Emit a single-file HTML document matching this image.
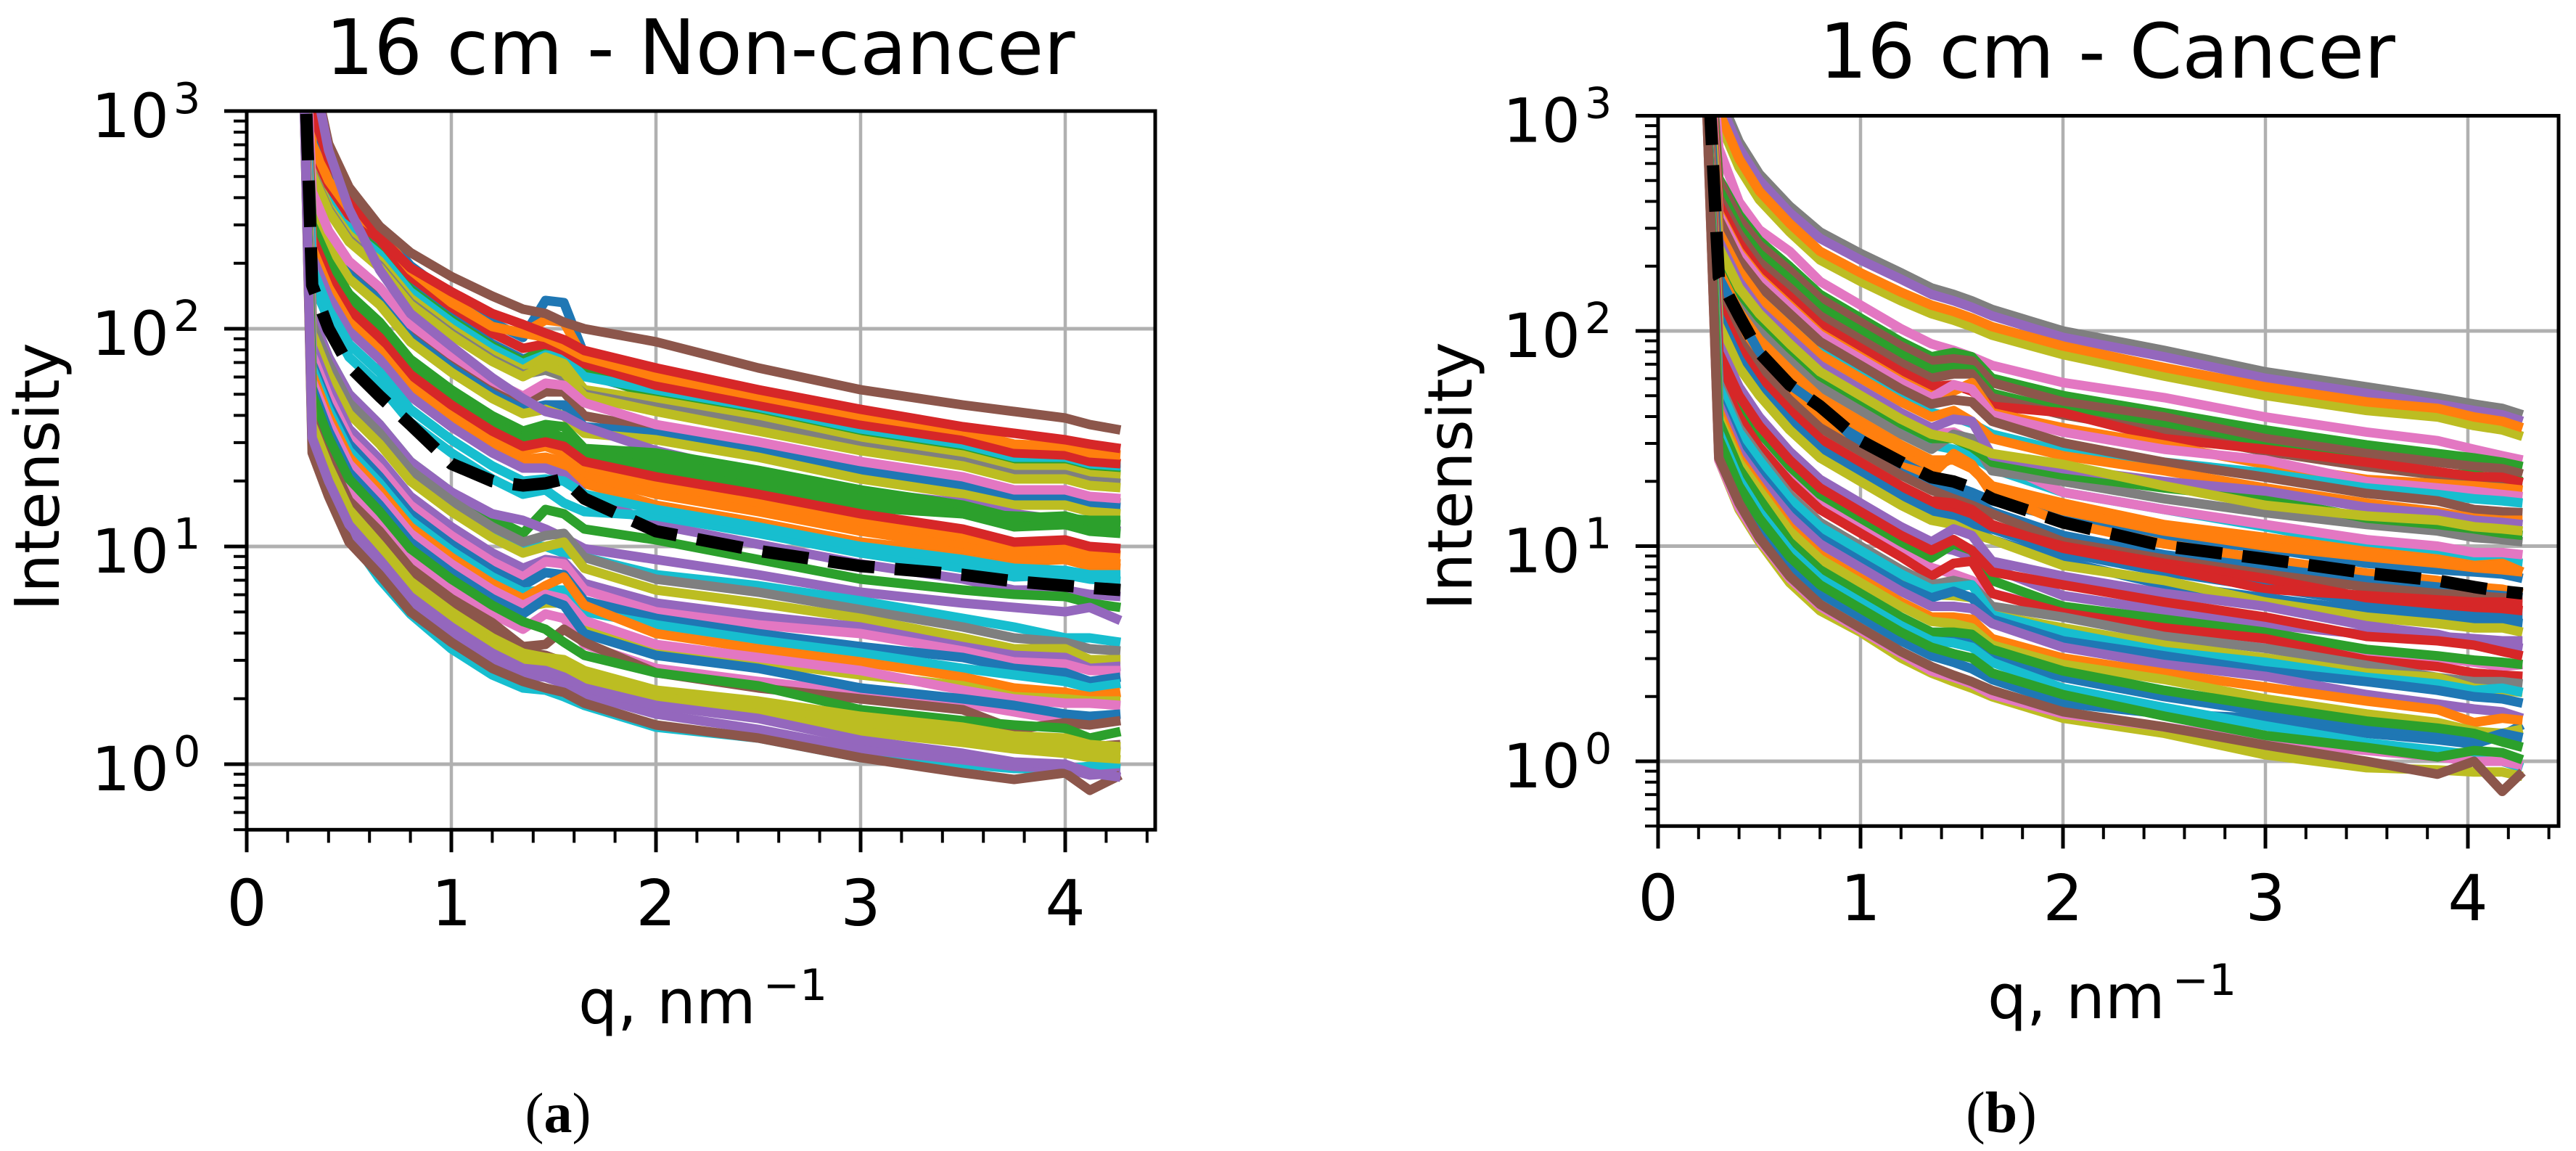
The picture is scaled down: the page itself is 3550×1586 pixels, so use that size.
<!DOCTYPE html>
<html lang="en">
<head>
<meta charset="utf-8">
<title>16 cm intensity curves: Non-cancer and Cancer</title>
<style>
html,body{margin:0;padding:0;background:#fff;}
svg{display:block;}
text{font-family:"DejaVu Sans","Liberation Sans",sans-serif;fill:#000;}
.caption{font-family:"Liberation Serif",serif;}
</style>
</head>
<body>
<svg id="figure" xmlns="http://www.w3.org/2000/svg" width="3550" height="1586" viewBox="0 0 3550 1586">
<rect x="0" y="0" width="3550" height="1586" fill="#ffffff"/>
<text class="caption" x="769" y="1560" font-size="78" text-anchor="middle">(<tspan font-weight="bold">a</tspan>)</text>
<text class="caption" x="2758" y="1560" font-size="80" text-anchor="middle">(<tspan font-weight="bold">b</tspan>)</text>
</svg>
<script>
/* Values. Every series holds log10(intensity) at the q positions below. */
const nonCancerQ = [0.27,0.32,0.4,0.5,0.65,0.8,1,1.2,1.35,1.46,1.55,1.65,2,2.5,3,3.5,3.75,4,4.12,4.27];
const cancerQ = [0.22,0.30,0.4,0.5,0.65,0.8,1,1.2,1.35,1.46,1.55,1.65,2,2.5,3,3.5,3.85,4.03,4.17,4.27];
const xTickLabels = ['0','1','2','3','4'];
const yTickDecades = [0,1,2,3];

const nonCancerColors = ['blue','orange','blue','green','cyan','olive','gray','olive','red','orange','red','brown','brown','blue','olive','pink','purple','green','green','green','orange','red','orange','orange','purple','cyan','cyan','green','purple','cyan','gray','olive','purple','pink','pink','blue','cyan','orange','olive','pink','blue','brown','green','brown','olive','olive','olive','cyan','purple','brown','purple'];
const nonCancerSeries = [
[3.8,2.87,2.70,2.57,2.46,2.29,2.15,2.03,1.96,2.13,2.12,1.88,1.74,1.62,1.52,1.44,1.41,1.39,1.37,1.36],
[3.8,2.85,2.68,2.55,2.44,2.27,2.13,2.01,1.98,2.04,2.03,1.86,1.73,1.63,1.53,1.45,1.42,1.41,1.40,1.38],
[3.7,2.78,2.61,2.48,2.36,2.19,2.05,1.93,1.86,1.90,1.86,1.79,1.70,1.62,1.52,1.45,1.39,1.39,1.36,1.35],
[3.7,2.77,2.60,2.47,2.35,2.18,2.04,1.92,1.85,1.92,1.93,1.80,1.69,1.60,1.51,1.44,1.37,1.37,1.34,1.33],
[3.7,2.76,2.59,2.46,2.34,2.17,2.03,1.91,1.84,1.88,1.87,1.78,1.72,1.64,1.54,1.47,1.41,1.41,1.38,1.37],
[3.7,2.74,2.56,2.43,2.31,2.14,2.00,1.88,1.81,1.87,1.84,1.72,1.67,1.59,1.49,1.42,1.36,1.36,1.33,1.32],
[3.7,2.72,2.55,2.41,2.29,2.12,1.98,1.86,1.79,1.81,1.78,1.70,1.64,1.56,1.46,1.39,1.33,1.33,1.30,1.29],
[3.7,2.71,2.54,2.40,2.28,2.11,1.97,1.85,1.78,1.83,1.80,1.69,1.62,1.53,1.44,1.37,1.31,1.31,1.28,1.27],
[3.8,2.83,2.66,2.52,2.41,2.24,2.10,1.98,1.91,1.93,1.90,1.84,1.74,1.65,1.56,1.49,1.43,1.42,1.39,1.38],
[3.8,2.85,2.68,2.55,2.44,2.27,2.12,2.01,1.98,1.96,1.92,1.87,1.78,1.69,1.60,1.53,1.47,1.46,1.43,1.42],
[3.9,3.00,2.78,2.60,2.42,2.28,2.17,2.07,2.02,1.98,1.95,1.90,1.82,1.72,1.63,1.55,1.52,1.49,1.47,1.45],
[4.0,3.20,2.85,2.65,2.47,2.35,2.24,2.15,2.09,2.07,2.03,2.00,1.94,1.82,1.72,1.65,1.62,1.59,1.56,1.535],
[3.7,2.60,2.43,2.28,2.16,1.99,1.85,1.73,1.66,1.71,1.71,1.60,1.54,1.46,1.37,1.30,1.24,1.24,1.21,1.20],
[3.7,2.57,2.40,2.25,2.13,1.96,1.82,1.70,1.63,1.65,1.65,1.55,1.52,1.44,1.35,1.28,1.22,1.22,1.19,1.18],
[3.7,2.56,2.38,2.23,2.11,1.94,1.80,1.68,1.61,1.63,1.60,1.52,1.49,1.41,1.31,1.24,1.19,1.19,1.16,1.15],
[3.7,2.63,2.45,2.31,2.19,2.02,1.88,1.76,1.69,1.75,1.74,1.66,1.56,1.48,1.39,1.32,1.26,1.26,1.23,1.22],
[4.0,3.20,2.82,2.55,2.27,2.07,1.92,1.775,1.68,1.62,1.60,1.55,1.44,1.33,1.25,1.20,1.15,1.12,1.09,1.07],
[3.6,2.48,2.31,2.16,2.03,1.86,1.72,1.60,1.53,1.56,1.55,1.45,1.43,1.35,1.26,1.19,1.13,1.14,1.11,1.10],
[3.6,2.46,2.28,2.13,2.00,1.83,1.69,1.57,1.50,1.53,1.50,1.42,1.39,1.31,1.22,1.15,1.09,1.10,1.07,1.06],
[3.6,2.45,2.27,2.12,1.99,1.82,1.68,1.56,1.49,1.51,1.49,1.43,1.36,1.27,1.18,1.15,1.14,1.13,1.12,1.12],
[3.6,2.40,2.22,2.07,1.94,1.77,1.63,1.51,1.44,1.46,1.43,1.35,1.28,1.20,1.11,1.04,0.99,1.00,0.97,0.96],
[3.6,2.42,2.24,2.09,1.96,1.79,1.65,1.53,1.46,1.48,1.46,1.39,1.32,1.24,1.15,1.08,1.02,1.03,1.00,0.99],
[3.6,2.37,2.19,2.03,1.90,1.73,1.59,1.47,1.40,1.41,1.39,1.32,1.24,1.16,1.07,1.00,0.95,0.96,0.93,0.92],
[3.6,2.35,2.17,2.01,1.88,1.71,1.57,1.45,1.38,1.39,1.37,1.29,1.19,1.11,1.02,0.97,0.93,0.94,0.91,0.90],
[3.6,2.33,2.15,1.99,1.86,1.69,1.55,1.43,1.36,1.36,1.33,1.24,1.10,1.01,0.92,0.85,0.80,0.80,0.78,0.77],
[3.6,2.22,2.04,1.87,1.74,1.57,1.43,1.31,1.24,1.26,1.20,1.16,1.14,1.06,0.97,0.90,0.86,0.87,0.85,0.84],
[3.6,2.28,2.09,1.93,1.80,1.63,1.49,1.37,1.30,1.31,1.30,1.24,1.17,1.09,1.00,0.94,0.90,0.89,0.87,0.87],
[3.6,2.06,1.87,1.70,1.56,1.39,1.25,1.13,1.06,1.17,1.15,1.08,1.03,0.94,0.85,0.80,0.78,0.77,0.74,0.72],
[3.6,2.06,1.87,1.70,1.56,1.39,1.25,1.15,1.12,1.08,1.04,0.99,0.94,0.87,0.79,0.74,0.72,0.70,0.72,0.66],
[3.6,2.00,1.82,1.64,1.50,1.33,1.19,1.07,1.00,1.00,0.97,0.95,0.87,0.82,0.75,0.67,0.63,0.58,0.58,0.56],
[3.6,2.02,1.84,1.66,1.52,1.35,1.21,1.09,1.02,1.05,1.06,0.95,0.85,0.79,0.71,0.63,0.58,0.56,0.53,0.52],
[3.6,1.98,1.79,1.61,1.47,1.30,1.16,1.04,0.97,1.00,1.02,0.90,0.80,0.74,0.67,0.58,0.53,0.53,0.48,0.48],
[3.6,1.92,1.73,1.54,1.40,1.23,1.09,0.97,0.90,0.94,0.93,0.83,0.74,0.68,0.63,0.54,0.50,0.49,0.44,0.45],
[3.6,1.88,1.69,1.50,1.36,1.19,1.05,0.93,0.86,0.93,0.92,0.80,0.70,0.64,0.60,0.52,0.47,0.46,0.43,0.43],
[3.5,1.66,1.46,1.27,1.12,0.95,0.81,0.69,0.62,0.69,0.67,0.55,0.44,0.38,0.33,0.28,0.24,0.20,0.20,0.20],
[3.5,1.84,1.65,1.47,1.32,1.15,1.01,0.89,0.82,0.88,0.87,0.75,0.67,0.60,0.54,0.49,0.44,0.42,0.38,0.40],
[3.5,1.82,1.63,1.44,1.29,1.12,0.98,0.86,0.79,0.80,0.80,0.70,0.64,0.57,0.51,0.44,0.41,0.38,0.35,0.37],
[3.5,1.79,1.60,1.41,1.26,1.09,0.95,0.83,0.76,0.82,0.86,0.73,0.60,0.53,0.47,0.40,0.35,0.33,0.31,0.33],
[3.5,1.75,1.56,1.37,1.22,1.05,0.91,0.79,0.72,0.74,0.74,0.64,0.53,0.47,0.41,0.36,0.31,0.30,0.29,0.29],
[3.5,1.76,1.57,1.38,1.23,1.06,0.92,0.80,0.73,0.78,0.76,0.66,0.55,0.49,0.43,0.34,0.30,0.28,0.28,0.27],
[3.5,1.73,1.53,1.34,1.19,1.02,0.88,0.76,0.69,0.76,0.73,0.60,0.50,0.44,0.35,0.30,0.27,0.23,0.22,0.23],
[3.5,1.61,1.41,1.21,1.07,0.90,0.76,0.65,0.54,0.55,0.62,0.56,0.42,0.35,0.30,0.25,0.16,0.19,0.18,0.20],
[3.5,1.70,1.50,1.31,1.16,0.99,0.85,0.73,0.655,0.62,0.56,0.50,0.42,0.36,0.25,0.20,0.18,0.165,0.12,0.15],
[3.5,1.58,1.38,1.18,1.04,0.87,0.73,0.61,0.52,0.50,0.47,0.42,0.33,0.28,0.21,0.14,0.10,0.12,0.08,0.09],
[3.5,1.56,1.37,1.17,1.01,0.84,0.70,0.58,0.51,0.49,0.48,0.43,0.34,0.29,0.22,0.17,0.13,0.12,0.09,0.08],
[3.5,1.54,1.35,1.15,0.99,0.82,0.68,0.56,0.49,0.47,0.46,0.41,0.31,0.26,0.19,0.14,0.10,0.09,0.06,0.05],
[3.5,1.52,1.33,1.13,0.97,0.80,0.66,0.54,0.47,0.45,0.44,0.39,0.29,0.23,0.15,0.10,0.07,0.05,0.03,0.02],
[3.5,1.46,1.26,1.05,0.85,0.69,0.53,0.41,0.35,0.34,0.31,0.27,0.17,0.12,0.03,0.00,-0.02,-0.02,-0.01,-0.02],
[3.5,1.47,1.27,1.07,0.91,0.74,0.60,0.48,0.41,0.40,0.37,0.32,0.23,0.16,0.07,0.02,-0.01,-0.02,-0.05,-0.04],
[3.5,1.43,1.23,1.02,0.87,0.70,0.56,0.44,0.38,0.35,0.33,0.28,0.18,0.12,0.03,-0.04,-0.07,-0.04,-0.12,-0.05],
[3.5,1.50,1.30,1.10,0.94,0.77,0.63,0.51,0.44,0.43,0.40,0.35,0.27,0.21,0.11,0.05,0.01,0.00,-0.04,-0.06]
];
const nonCancerMean = [3.6,2.20,2.00,1.83,1.69,1.56,1.38,1.30,1.28,1.29,1.31,1.22,1.07,0.98,0.91,0.87,0.84,0.82,0.81,0.80];

const cancerColors = ['gray','purple','olive','orange','pink','green','brown','green','brown','red','orange','pink','cyan','brown','orange','cyan','pink','gray','green','purple','olive','orange','blue','orange','orange','blue','brown','blue','red','red','blue','olive','purple','purple','pink','green','red','red','gray','olive','cyan','blue','blue','purple','orange','olive','blue','green','cyan','olive','pink','green','brown'];
const cancerSeries = [
[3.9,3.10,2.88,2.73,2.58,2.46,2.36,2.27,2.20,2.17,2.14,2.10,2.00,1.91,1.81,1.74,1.69,1.66,1.64,1.61],
[3.9,3.07,2.85,2.70,2.55,2.43,2.33,2.24,2.17,2.14,2.11,2.07,1.97,1.88,1.78,1.71,1.66,1.63,1.61,1.58],
[3.9,2.98,2.76,2.61,2.46,2.33,2.23,2.14,2.08,2.05,2.02,1.98,1.89,1.79,1.70,1.63,1.60,1.56,1.54,1.51],
[3.9,3.02,2.80,2.65,2.50,2.37,2.27,2.18,2.12,2.09,2.06,2.02,1.93,1.83,1.74,1.67,1.64,1.60,1.58,1.55],
[3.8,2.85,2.60,2.47,2.37,2.23,2.12,2.01,1.94,1.91,1.88,1.84,1.76,1.69,1.60,1.53,1.49,1.45,1.42,1.40],
[3.8,2.71,2.54,2.42,2.30,2.17,2.06,1.95,1.88,1.90,1.88,1.78,1.70,1.62,1.54,1.47,1.43,1.41,1.39,1.37],
[3.8,2.70,2.52,2.40,2.28,2.15,2.04,1.93,1.86,1.87,1.86,1.76,1.67,1.60,1.50,1.43,1.39,1.37,1.36,1.335],
[3.8,2.66,2.48,2.36,2.24,2.11,2.00,1.89,1.82,1.83,1.82,1.71,1.63,1.56,1.46,1.39,1.34,1.33,1.31,1.30],
[3.8,2.62,2.45,2.32,2.20,2.07,1.96,1.85,1.78,1.80,1.80,1.69,1.61,1.53,1.44,1.37,1.33,1.31,1.30,1.29],
[3.8,2.59,2.41,2.28,2.16,2.03,1.92,1.81,1.74,1.75,1.72,1.65,1.62,1.50,1.45,1.39,1.346,1.323,1.32,1.295],
[3.8,2.55,2.37,2.25,2.12,1.99,1.88,1.77,1.70,1.72,1.76,1.62,1.55,1.47,1.38,1.31,1.29,1.28,1.27,1.26],
[3.8,2.54,2.36,2.24,2.11,1.98,1.87,1.76,1.69,1.75,1.73,1.61,1.53,1.45,1.40,1.30,1.27,1.255,1.24,1.23],
[3.7,2.48,2.30,2.17,2.04,1.91,1.80,1.69,1.62,1.60,1.57,1.52,1.44,1.39,1.34,1.27,1.24,1.22,1.21,1.20],
[3.7,2.52,2.33,2.21,2.08,1.95,1.84,1.73,1.66,1.68,1.67,1.58,1.48,1.39,1.32,1.245,1.21,1.17,1.16,1.155],
[3.7,2.46,2.28,2.15,2.02,1.89,1.78,1.67,1.60,1.63,1.58,1.50,1.42,1.35,1.27,1.20,1.16,1.13,1.12,1.12],
[3.7,2.35,2.16,2.03,1.89,1.76,1.65,1.54,1.47,1.45,1.42,1.36,1.25,1.17,1.09,1.00,0.97,0.93,0.93,0.92],
[3.7,2.39,2.20,2.08,1.94,1.81,1.70,1.59,1.52,1.53,1.49,1.40,1.25,1.17,1.10,1.03,1.00,0.97,0.97,0.96],
[3.7,2.33,2.14,2.01,1.87,1.74,1.63,1.52,1.45,1.52,1.50,1.35,1.30,1.22,1.155,1.10,1.07,1.04,1.03,1.02],
[3.7,2.37,2.18,2.06,1.92,1.79,1.68,1.57,1.50,1.50,1.46,1.39,1.33,1.27,1.22,1.13,1.10,1.08,1.06,1.05],
[3.7,2.42,2.23,2.10,1.97,1.84,1.73,1.62,1.55,1.59,1.58,1.42,1.36,1.30,1.256,1.18,1.15,1.12,1.11,1.10],
[3.7,2.39,2.20,2.08,1.94,1.81,1.70,1.59,1.52,1.50,1.47,1.43,1.38,1.28,1.19,1.14,1.12,1.09,1.08,1.07],
[3.7,2.25,2.05,1.92,1.78,1.65,1.54,1.43,1.36,1.41,1.37,1.28,1.20,1.10,1.04,0.975,0.94,0.91,0.92,0.88],
[3.7,2.21,2.02,1.89,1.74,1.61,1.50,1.39,1.32,1.28,1.25,1.21,1.13,1.04,0.99,0.92,0.89,0.88,0.87,0.85],
[3.7,2.28,2.09,1.96,1.82,1.69,1.58,1.47,1.40,1.40,1.36,1.27,1.165,1.07,1.00,0.95,0.92,0.90,0.89,0.88],
[3.7,2.20,2.02,1.86,1.72,1.60,1.46,1.37,1.33,1.43,1.38,1.24,1.11,1.01,0.94,0.875,0.84,0.81,0.80,0.78],
[3.7,2.25,2.07,1.90,1.75,1.65,1.47,1.34,1.28,1.24,1.21,1.16,1.05,0.96,0.90,0.84,0.81,0.78,0.77,0.76],
[3.6,2.16,1.96,1.83,1.68,1.55,1.44,1.33,1.26,1.22,1.19,1.15,1.02,0.94,0.87,0.81,0.78,0.77,0.76,0.76],
[3.6,2.09,1.89,1.76,1.61,1.48,1.37,1.26,1.19,1.15,1.12,1.08,0.97,0.88,0.81,0.74,0.71,0.69,0.68,0.68],
[3.6,2.10,1.91,1.77,1.62,1.49,1.38,1.27,1.20,1.18,1.15,1.09,1.00,0.92,0.85,0.76,0.73,0.716,0.71,0.70],
[3.6,2.12,1.92,1.78,1.63,1.50,1.39,1.28,1.21,1.20,1.17,1.10,0.99,0.90,0.80,0.77,0.75,0.74,0.74,0.74],
[3.6,2.07,1.87,1.73,1.58,1.45,1.34,1.23,1.16,1.11,1.08,1.03,0.93,0.82,0.76,0.70,0.67,0.655,0.65,0.64],
[3.6,2.03,1.83,1.70,1.54,1.41,1.30,1.19,1.12,1.10,1.06,1.03,0.91,0.84,0.74,0.67,0.64,0.62,0.62,0.60],
[3.6,1.94,1.74,1.60,1.44,1.31,1.20,1.09,1.02,1.08,1.05,0.93,0.86,0.78,0.72,0.63,0.59,0.55,0.54,0.525],
[3.6,1.94,1.74,1.60,1.43,1.30,1.19,1.08,1.00,0.98,0.95,0.90,0.77,0.70,0.635,0.59,0.58,0.57,0.56,0.56],
[3.6,1.84,1.64,1.50,1.34,1.21,1.10,0.99,0.90,0.87,0.84,0.78,0.70,0.64,0.56,0.51,0.48,0.46,0.44,0.45],
[3.6,1.87,1.67,1.53,1.37,1.24,1.13,1.02,0.945,1.01,0.98,0.84,0.72,0.66,0.60,0.52,0.49,0.47,0.46,0.45],
[3.6,1.90,1.70,1.56,1.40,1.27,1.16,1.05,0.98,1.03,0.98,0.88,0.82,0.74,0.67,0.58,0.56,0.54,0.51,0.49],
[3.6,1.80,1.60,1.46,1.30,1.17,1.06,0.95,0.86,0.92,0.93,0.78,0.69,0.62,0.57,0.47,0.44,0.41,0.40,0.395],
[3.6,1.76,1.55,1.42,1.24,1.11,1.00,0.89,0.82,0.84,0.82,0.72,0.67,0.58,0.525,0.446,0.39,0.37,0.37,0.36],
[3.6,1.72,1.51,1.38,1.20,1.07,0.96,0.85,0.775,0.77,0.76,0.68,0.62,0.54,0.48,0.41,0.39,0.34,0.33,0.32],
[3.6,1.74,1.53,1.40,1.22,1.09,0.98,0.87,0.80,0.81,0.82,0.68,0.60,0.51,0.46,0.39,0.36,0.33,0.34,0.32],
[3.6,1.68,1.47,1.34,1.17,1.04,0.93,0.82,0.76,0.79,0.76,0.66,0.56,0.49,0.42,0.37,0.33,0.30,0.29,0.27],
[3.6,1.46,1.25,1.10,0.91,0.78,0.67,0.56,0.49,0.46,0.43,0.38,0.27,0.22,0.20,0.13,0.10,0.08,0.12,0.17],
[3.6,1.66,1.44,1.31,1.14,1.01,0.90,0.79,0.72,0.72,0.71,0.64,0.53,0.45,0.395,0.31,0.266,0.243,0.23,0.20],
[3.6,1.63,1.41,1.28,1.09,0.96,0.85,0.74,0.67,0.67,0.66,0.57,0.48,0.41,0.345,0.28,0.24,0.18,0.20,0.19],
[3.6,1.60,1.39,1.26,1.07,0.94,0.83,0.72,0.65,0.64,0.62,0.54,0.45,0.38,0.29,0.22,0.18,0.14,0.13,0.15],
[3.6,1.56,1.34,1.20,1.00,0.87,0.76,0.65,0.58,0.57,0.56,0.48,0.39,0.30,0.23,0.16,0.12,0.09,0.13,0.11],
[3.6,1.58,1.36,1.22,1.02,0.89,0.78,0.67,0.60,0.60,0.59,0.52,0.42,0.33,0.255,0.187,0.154,0.13,0.09,0.065],
[3.6,1.53,1.31,1.16,0.98,0.85,0.74,0.63,0.56,0.55,0.53,0.46,0.34,0.25,0.165,0.086,0.05,0.03,0.00,-0.03],
[3.6,1.40,1.17,1.02,0.83,0.70,0.60,0.48,0.41,0.37,0.34,0.30,0.20,0.13,0.03,-0.03,-0.04,-0.05,-0.05,-0.07],
[3.6,1.40,1.18,1.03,0.85,0.72,0.61,0.50,0.42,0.39,0.36,0.31,0.22,0.16,0.09,0.05,0.02,0.00,0.00,-0.02],
[3.6,1.50,1.28,1.13,0.95,0.82,0.71,0.60,0.53,0.50,0.48,0.41,0.31,0.21,0.12,0.064,0.02,0.05,0.04,0.007],
[3.6,1.41,1.20,1.04,0.86,0.73,0.62,0.51,0.44,0.40,0.37,0.33,0.23,0.16,0.075,0.00,-0.06,0.00,-0.14,-0.05]
];
const cancerMean = [3.7,2.25,2.07,1.90,1.75,1.65,1.49,1.39,1.32,1.30,1.27,1.22,1.11,1.00,0.94,0.875,0.84,0.81,0.79,0.78];

const palette = {blue:'#1f77b4',orange:'#ff7f0e',green:'#2ca02c',red:'#d62728',purple:'#9467bd',brown:'#8c564b',pink:'#e377c2',gray:'#7f7f7f',olive:'#bcbd22',cyan:'#17becf'};

const SVGNS = 'http://www.w3.org/2000/svg';
const figure = document.getElementById('figure');

function make(parent, tag, attrs, content) {
  const node = document.createElementNS(SVGNS, tag);
  for (const key in attrs) node.setAttribute(key, attrs[key]);
  if (content !== undefined) node.textContent = content;
  parent.appendChild(node);
  return node;
}

function drawPanel(p) {
  const xPx = q => p.x0 + p.xUnit * q;
  const yPx = logI => p.y0 - p.yUnit * logI;
  const top = yPx(3);
  const bottom = yPx(Math.log10(0.5));

  const panel = make(figure, 'g', {});
  
  

  const clip = make(panel, 'clipPath', {id: p.id + '-clip'});
  make(clip, 'rect', {x: p.x0, y: top, width: p.right - p.x0, height: bottom - top});

  /* grid */
  xTickLabels.forEach(label => {
    const gx = make(panel, 'line', {x1: xPx(+label), x2: xPx(+label), y1: top, y2: bottom, stroke: '#b0b0b0', 'stroke-width': 4.5});
    
    
  });
  yTickDecades.forEach(d => {
    const gy = make(panel, 'line', {x1: p.x0, x2: p.right, y1: yPx(d), y2: yPx(d), stroke: '#b0b0b0', 'stroke-width': 5});
    
    
  });

  /* series */
  const plot = make(panel, 'g', {'clip-path': 'url(#' + p.id + '-clip)'});
  
  
  const toPoints = row => row.map((v, i) => xPx(p.q[i]).toFixed(1) + ',' + yPx(v).toFixed(1)).join(' ');
  p.series.forEach((row, i) => {
    const line = make(plot, 'polyline', {points: toPoints(row), fill: 'none', stroke: palette[p.colors[i]], 'stroke-width': 13, 'stroke-linejoin': 'round', 'stroke-linecap': 'butt'});
    
    
  });
  const mean = make(plot, 'polyline', {points: toPoints(p.mean), fill: 'none', stroke: '#000', 'stroke-width': 17, 'stroke-dasharray': '64 28', 'stroke-linejoin': 'round'});
  
  

  /* minor and major ticks */
  for (let k = 0; k <= 22; k++) {
    const isMajor = k % 5 === 0;
    const tickX = xPx(k * 0.2);
    if (tickX > p.right + 1) continue;
    const t = make(panel, 'line', {x1: tickX, x2: tickX, y1: bottom, y2: bottom + (isMajor ? 31 : 18), stroke: '#000', 'stroke-width': isMajor ? 5 : 4});
    
    
  }
  for (let d = -1; d < 3; d++) {
    for (let m = 1; m < 10; m++) {
      const logValue = d + Math.log10(m);
      if (logValue < Math.log10(0.5) - 1e-6) continue;
      const t = make(panel, 'line', {x1: p.x0, x2: p.x0 - (m === 1 ? 31 : 18), y1: yPx(logValue), y2: yPx(logValue), stroke: '#000', 'stroke-width': m === 1 ? 5 : 4});
      
      
    }
  }
  const topTick = make(panel, 'line', {x1: p.x0, x2: p.x0 - 31, y1: top, y2: top, stroke: '#000', 'stroke-width': 5});
  
  

  /* frame */
  const frame = make(panel, 'rect', {x: p.x0, y: top, width: p.right - p.x0, height: bottom - top, fill: 'none', stroke: '#000', 'stroke-width': 5});
  
  

  /* tick labels */
  xTickLabels.forEach(label => {
    const t = make(panel, 'text', {x: xPx(+label), y: p.xLabelBase, 'font-size': 87, 'text-anchor': 'middle'}, label);
    
    
  });
  yTickDecades.forEach(d => {
    const t = make(panel, 'text', {x: p.x0 - 214, y: yPx(d) + 36, 'font-size': 84}, '10');
    
    
    const sup = make(t, 'tspan', {dx: 6, dy: -33, 'font-size': 59}, String(d));
    
    
  });

  /* titles */
  const title = make(panel, 'text', {x: p.titleX, y: p.titleY, 'font-size': p.titleSize, 'text-anchor': 'middle'}, p.title);
  
  

  const xTitle = make(panel, 'text', {x: p.xTitleX, y: p.xTitleY, 'font-size': 85}, 'q, nm');
  
  
  const xSup = make(xTitle, 'tspan', {dx: 10, dy: -32, 'font-size': 60}, '\u22121');
  
  

  const yTitle = make(panel, 'text', {x: 0, y: 0, 'font-size': 85, 'text-anchor': 'middle', transform: 'translate(' + p.yTitleX + ' ' + p.yTitleY + ') rotate(-90)'}, 'Intensity');
  
  
}

drawPanel({id:'non-cancer', title:'16 cm - Non-cancer', q:nonCancerQ, series:nonCancerSeries, colors:nonCancerColors, mean:nonCancerMean,
  x0:340, xUnit:282, right:1592, y0:1053, yUnit:300, xLabelBase:1275, titleX:965, titleY:102, titleSize:105,
  xTitleX:797, xTitleY:1410, yTitleX:81, yTitleY:657});
drawPanel({id:'cancer', title:'16 cm - Cancer', q:cancerQ, series:cancerSeries, colors:cancerColors, mean:cancerMean,
  x0:2285, xUnit:279, right:3526, y0:1049, yUnit:296.5, xLabelBase:1268, titleX:2904, titleY:107, titleSize:104,
  xTitleX:2739, xTitleY:1403, yTitleX:2028, yTitleY:656});
</script>
</body>
</html>
